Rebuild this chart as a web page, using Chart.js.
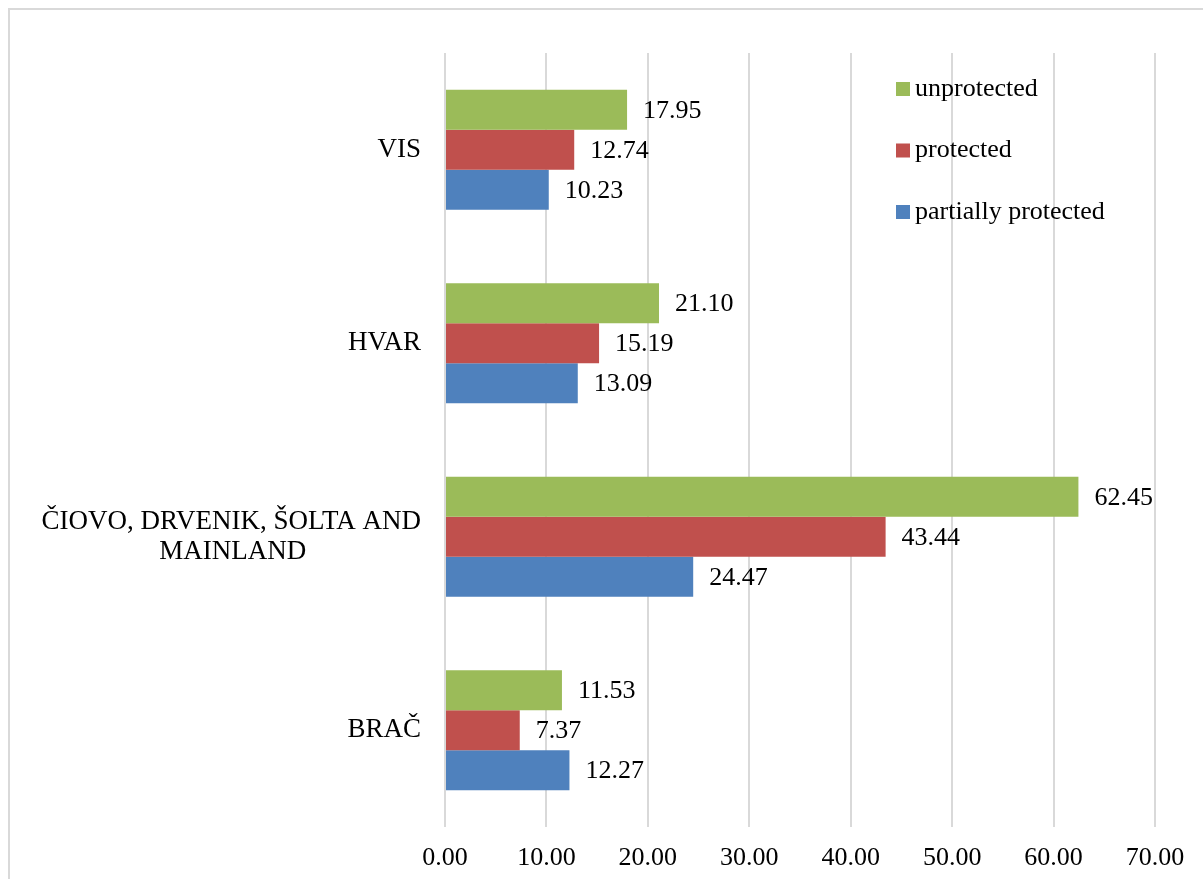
<!DOCTYPE html>
<html lang="en">
<head>
  <meta charset="UTF-8">
  <title>Protected / unprotected by island</title>
  <script src="https://cdn.jsdelivr.net/npm/chart.js"></script>
  <style>
    html, body { margin: 0; padding: 0; overflow: hidden; background: #fff; }
    #frame { position: absolute; left: 8px; top: 8px; width: 1400px; height: 1000px;
             border: 2px solid #d9d9d9; box-sizing: border-box; }
    #myChart { position: absolute; left: 0; top: 0; }
  </style>
</head>
<body>
  <div id="frame"></div>
  <canvas id="myChart" width="1203" height="879"></canvas>

  <script>
    // categories, top to bottom
    const categories = [
      'VIS',
      'HVAR',
      ['ČIOVO, DRVENIK, ŠOLTA AND', 'MAINLAND' + '\u00a0'.repeat(17)],
      'BRAČ'
    ];
    const unprotected = [17.95, 21.10, 62.45, 11.53];
    const protectedVals = [12.74, 15.19, 43.44, 7.37];
    const partiallyProtected = [10.23, 13.09, 24.47, 12.27];
    const xTicks = [0, 10, 20, 30, 40, 50, 60, 70];

    const FONT = 'Liberation Serif, Times New Roman, serif';

    // value labels next to each bar
    const valueLabels = {
      id: 'valueLabels',
      afterDatasetsDraw(chart) {
        const ctx = chart.ctx;
        ctx.save();
        ctx.font = '26px ' + FONT;
        ctx.fillStyle = '#000';
        ctx.textAlign = 'left';
        ctx.textBaseline = 'middle';
        chart.data.datasets.forEach((ds, i) => {
          chart.getDatasetMeta(i).data.forEach((bar, j) => {
            ctx.fillText(ds.data[j].toFixed(2), bar.x + 16, bar.y + 1);
          });
        });
        ctx.restore();
      }
    };

    // legend in the top right corner of the plot
    const boxLegend = {
      id: 'boxLegend',
      afterDraw(chart) {
        const ctx = chart.ctx;
        ctx.save();
        ctx.font = '26px ' + FONT;
        ctx.textBaseline = 'middle';
        chart.data.datasets.forEach((ds, i) => {
          const y = 89 + i * 61.5;
          ctx.fillStyle = ds.backgroundColor;
          ctx.fillRect(896, y - 7, 14, 14);
          ctx.fillStyle = '#000';
          ctx.fillText(ds.label, 915, y);
        });
        ctx.restore();
      }
    };

    const ctx = document.getElementById('myChart').getContext('2d');
    new Chart(ctx, {
      type: 'bar',
      data: {
        labels: categories,
        datasets: [
          { label: 'unprotected', data: unprotected, backgroundColor: '#9bbb59' },
          { label: 'protected', data: protectedVals, backgroundColor: '#c0504d' },
          { label: 'partially protected', data: partiallyProtected, backgroundColor: '#4f81bd' }
        ]
      },
      plugins: [valueLabels, boxLegend],
      options: {
        indexAxis: 'y',
        responsive: false,
        devicePixelRatio: 1,
        animation: false,
        categoryPercentage: 0.62,
        barPercentage: 1,
        layout: { padding: { top: 53, right: 48, left: 0, bottom: 0 } },
        plugins: {
          legend: { display: false },
          tooltip: { enabled: false }
        },
        scales: {
          x: {
            min: 0,
            max: 70,
            afterBuildTicks: s => { s.ticks = xTicks.map(v => ({ value: v })); },
            afterFit: s => { s.height = 52; },
            border: { display: false },
            grid: { color: '#d9d9d9', lineWidth: 2, drawTicks: false },
            ticks: {
              padding: 16,
              color: '#000',
              font: { family: FONT, size: 26 },
              callback: v => Number(v).toFixed(2)
            }
          },
          y: {
            afterFit: s => { s.width = 445; },
            border: { display: false },
            grid: { display: false },
            ticks: {
              padding: 16,
              color: '#000',
              font: { family: FONT, size: 27, lineHeight: 1.1 }
            }
          }
        }
      }
    });
  </script>
</body>
</html>
